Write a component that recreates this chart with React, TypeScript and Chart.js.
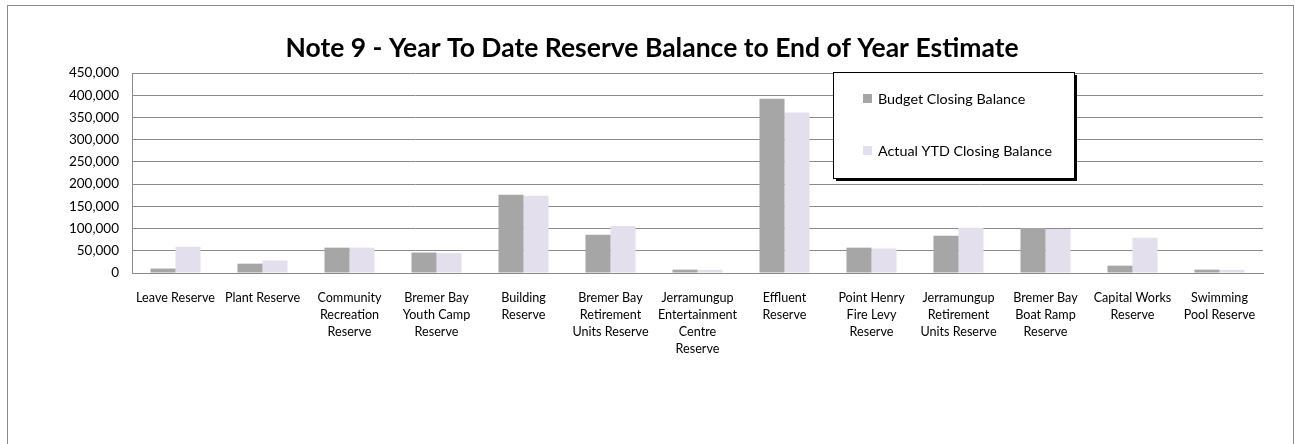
import React, { useEffect, useRef } from "react";
import { Chart, registerables } from "chart.js";

Chart.register(...registerables);

const TITLE = "Note 9 - Year To Date Reserve Balance to End of Year Estimate";

const categories: (string | string[])[] = [
  "Leave Reserve",
  "Plant Reserve",
  ["Community", "Recreation", "Reserve"],
  ["Bremer Bay", "Youth Camp", "Reserve"],
  ["Building", "Reserve"],
  ["Bremer Bay", "Retirement", "Units Reserve"],
  ["Jerramungup", "Entertainment", "Centre", "Reserve"],
  ["Effluent", "Reserve"],
  ["Point Henry", "Fire Levy", "Reserve"],
  ["Jerramungup", "Retirement", "Units Reserve"],
  ["Bremer Bay", "Boat Ramp", "Reserve"],
  ["Capital Works", "Reserve"],
  ["Swimming", "Pool Reserve"],
];

const budgetClosing = [
  10000, 21000, 57000, 46000, 176000, 86000, 7500, 392000, 57000, 84000, 101000, 16500, 7500,
];

const actualYTD = [
  59000, 28000, 57000, 45000, 174000, 106000, 7000, 361000, 55000, 102000, 99000, 79500, 7000,
];

const seriesNames = ["Budget Closing Balance", "Actual YTD Closing Balance"];
const seriesColors = ["#A6A6A6", "#E4DFEC"];

const yMin = 0;
const yMax = 450000;
const yStep = 50000;

const FONT = "Lato, 'Open Sans', sans-serif";

const framePlugin = {
  id: "frameAndLegend",
  beforeDraw(chart: any) {
    const ctx = chart.ctx;
    ctx.save();
    ctx.fillStyle = "#ffffff";
    ctx.fillRect(0, 0, chart.width, chart.height);
    ctx.strokeStyle = "#8a8a8a";
    ctx.lineWidth = 1;
    ctx.strokeRect(7.5, 5.5, 1286, 460);
    ctx.restore();
  },
  afterDraw(chart: any) {
    const ctx = chart.ctx;
    ctx.save();
    // title
    ctx.fillStyle = "#000000";
    ctx.font = `bold 26.5px ${FONT}`;
    ctx.textAlign = "center";
    ctx.textBaseline = "middle";
    ctx.fillText(TITLE, 652, 48);

    // legend box
    const lx = 833, ly = 72, lw = 241, lh = 106;
    ctx.fillStyle = "#000000";
    ctx.fillRect(lx + 3, ly + 3, lw, lh);
    ctx.fillStyle = "#ffffff";
    ctx.fillRect(lx, ly, lw, lh);
    ctx.strokeStyle = "#000000";
    ctx.lineWidth = 1;
    ctx.strokeRect(lx + 0.5, ly + 0.5, lw, lh);
    const ds = chart.data.datasets;
    const rows = [99, 151];
    ctx.font = `14.3px ${FONT}`;
    ctx.textAlign = "left";
    ctx.textBaseline = "middle";
    ds.forEach((d: any, i: number) => {
      ctx.fillStyle = d.backgroundColor;
      ctx.fillRect(lx + 30, rows[i] - 5, 9, 9);
      ctx.fillStyle = "#000000";
      ctx.fillText(d.label, lx + 45, rows[i]);
    });
    ctx.restore();
  },
};

export default function App() {
  const ref = useRef<HTMLCanvasElement | null>(null);
  useEffect(() => {
    if (!ref.current) return;
    const chart = new Chart(ref.current, {
      type: "bar",
      data: {
        labels: categories,
        datasets: [
          {
            label: seriesNames[0],
            data: budgetClosing,
            backgroundColor: seriesColors[0],
            categoryPercentage: 0.575,
            barPercentage: 1,
          },
          {
            label: seriesNames[1],
            data: actualYTD,
            backgroundColor: seriesColors[1],
            categoryPercentage: 0.575,
            barPercentage: 1,
          },
        ],
      },
      options: {
        animation: false,
        responsive: false,
        layout: { padding: { top: 73, right: 32, left: 0, bottom: 0 } },
        plugins: {
          legend: { display: false },
          title: { display: false },
          tooltip: { enabled: false },
        },
        scales: {
          x: {
            grid: { display: false, drawTicks: false },
            border: { display: true, color: "#8a8a8a", width: 1 },
            ticks: {
              autoSkip: false,
              maxRotation: 0,
              minRotation: 0,
              padding: 16,
              color: "#000000",
              font: { family: FONT, size: 12.6, lineHeight: 1.35 },
            },
            afterFit: (s: any) => {
              s.height = 171;
            },
          },
          y: {
            min: yMin,
            max: yMax,
            grid: { color: "#8a8a8a", drawTicks: false, lineWidth: 1 },
            border: { display: true, color: "#8a8a8a", width: 1 },
            ticks: {
              stepSize: yStep,
              padding: 13,
              color: "#000000",
              font: { family: FONT, size: 13.5 },
              callback: (v: any) => Number(v).toLocaleString("en-US"),
            },
            afterFit: (s: any) => {
              s.width = 132;
            },
          },
        },
      },
      plugins: [framePlugin],
    });
    return () => chart.destroy();
  }, []);
  return (
    <div style={{ position: "absolute", left: 0, top: 0, width: 1295, height: 444 }}>
      <canvas ref={ref} width={1295} height={444} style={{ width: 1295, height: 444 }} />
    </div>
  );
}
